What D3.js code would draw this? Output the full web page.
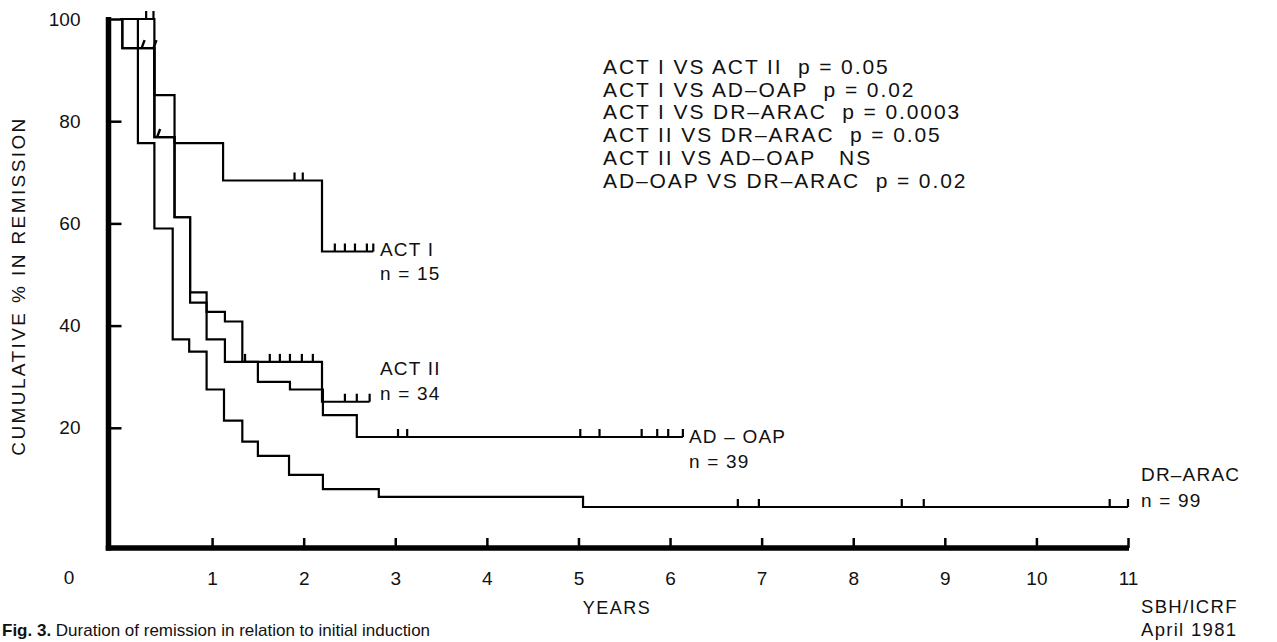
<!DOCTYPE html>
<html>
<head>
<meta charset="utf-8">
<script src="https://cdn.jsdelivr.net/npm/d3@7"></script>
<style>
  html, body { margin: 0; padding: 0; background: #fff; }
  svg { display: block; }
  text { font-family: "Liberation Sans", Arial, Helvetica, sans-serif; fill: #111; }
</style>
</head>
<body>
<svg id="chart" width="1277" height="642"></svg>
<script>
// ---------------- DATA ----------------
const yTicks = [20, 40, 60, 80, 100];
const xTicks = [1, 2, 3, 4, 5, 6, 7, 8, 9, 10, 11];

const actI_times = [0, 0.37, 0.59, 1.12, 2.20];
const actI_pct   = [100, 85.1, 75.7, 68.4, 54.5];
const actI_end   = 2.76;
const actI_censor = [0.28, 0.36, 1.90, 1.99, 2.34, 2.45, 2.56, 2.69, 2.76];

const actII_times = [0, 0.02, 0.37, 0.59, 0.76, 0.94, 1.14, 1.33, 2.20];
const actII_pct   = [100, 94.3, 76.9, 61.2, 46.5, 42.7, 40.8, 32.9, 25.1];
const actII_end   = 2.72;
const actII_censor = [1.36, 1.63, 1.74, 1.85, 1.98, 2.10, 2.45, 2.58, 2.72];
const actII_slant  = [0.23, 0.36];

const adoap_times = [0, 0.02, 0.37, 0.59, 0.76, 0.94, 1.14, 1.50, 1.85, 2.21, 2.58];
const adoap_pct   = [100, 94.3, 76.9, 61.2, 44.5, 37.3, 32.9, 29.0, 27.5, 22.5, 18.2];
const adoap_end   = 6.14;
const adoap_censor = [3.03, 3.13, 5.02, 5.23, 5.69, 5.86, 5.98, 6.14];
const adoap_slant  = [0.40];

const drarac_times = [0, 0.19, 0.37, 0.57, 0.75, 0.94, 1.13, 1.33, 1.50, 1.84, 2.21, 2.82, 5.05];
const drarac_pct   = [100, 75.7, 59.0, 37.3, 34.9, 27.5, 21.4, 17.3, 14.5, 10.8, 8.0, 6.5, 4.5];
const drarac_end   = 11.0;
const drarac_censor = [6.74, 6.97, 8.53, 8.77, 10.80, 11.0];

const seriesNames = ["ACT I", "ACT II", "AD \u2013 OAP", "DR\u2013ARAC"];
const seriesN     = ["n = 15", "n = 34", "n = 39", "n = 99"];

const statLines = [
  "ACT I VS ACT II  p = 0.05",
  "ACT I VS AD\u2013OAP  p = 0.02",
  "ACT I VS DR\u2013ARAC  p = 0.0003",
  "ACT II VS DR\u2013ARAC  p = 0.05",
  "ACT II VS AD\u2013OAP   NS",
  "AD\u2013OAP VS DR\u2013ARAC  p = 0.02"
];

// ---------------- SCALES ----------------
const svg = d3.select("#chart");
const x = d3.scaleLinear().domain([0, 11]).range([120.5, 1128]);
const y = d3.scaleLinear().domain([0, 100]).range([530, 19]);
const axisY = 548;   // x-axis baseline (slightly below 0%)
const axisX = 108.5; // y-axis line

// ---------------- AXES ----------------
const yAxis = d3.axisLeft(y).tickValues(yTicks).tickSize(-13).tickPadding(28).tickFormat(d3.format("d"));
const gy = svg.append("g").attr("transform", `translate(${axisX},0)`).call(yAxis);
gy.select(".domain").remove();
gy.selectAll(".tick line").attr("stroke", "#000").attr("stroke-width", 2.5);
gy.selectAll(".tick text").style("font-size", "19px").attr("fill", "#111").style("font-family", "Liberation Sans, Arial, sans-serif");

const xAxis = d3.axisBottom(x).tickValues(xTicks).tickSize(-10).tickPadding(24).tickFormat(d3.format("d"));
const gx = svg.append("g").attr("transform", `translate(0,${axisY})`).call(xAxis);
gx.select(".domain").remove();
gx.selectAll(".tick line").attr("stroke", "#000").attr("stroke-width", 2.5);
gx.selectAll(".tick text").style("font-size", "19px").attr("fill", "#111").style("font-family", "Liberation Sans, Arial, sans-serif");

// thick axis lines
svg.append("line").attr("x1", axisX).attr("x2", axisX).attr("y1", 17).attr("y2", axisY + 2.5)
  .attr("stroke", "#000").attr("stroke-width", 5.5);
svg.append("line").attr("x1", axisX - 2.75).attr("x2", x(11) + 1).attr("y1", axisY).attr("y2", axisY)
  .attr("stroke", "#000").attr("stroke-width", 5.5);

// origin label
svg.append("text").attr("x", 69).attr("y", 584).attr("text-anchor", "middle")
  .style("font-size", "19px").text("0");

// ---------------- CURVES ----------------
const series = [
  { times: actI_times, pct: actI_pct, end: actI_end, censor: actI_censor, slant: [] },
  { times: actII_times, pct: actII_pct, end: actII_end, censor: actII_censor, slant: actII_slant },
  { times: adoap_times, pct: adoap_pct, end: adoap_end, censor: adoap_censor, slant: adoap_slant },
  { times: drarac_times, pct: drarac_pct, end: drarac_end, censor: drarac_censor, slant: [] }
];

function levelAt(s, t) {
  let v = s.pct[0];
  for (let i = 0; i < s.times.length; i++) if (s.times[i] <= t) v = s.pct[i];
  return v;
}

const line = d3.line().x(d => x(d[0])).y(d => y(d[1])).curve(d3.curveStepAfter);

series.forEach(s => {
  const pts = s.times.map((t, i) => [t, s.pct[i]]);
  pts.push([s.end, s.pct[s.pct.length - 1]]);
  svg.append("path").attr("d", line(pts)).attr("fill", "none")
    .attr("stroke", "#000").attr("stroke-width", 2.2).attr("stroke-linejoin", "miter");
  svg.append("g").selectAll("line").data(s.censor).join("line")
    .attr("x1", d => x(d)).attr("x2", d => x(d))
    .attr("y1", d => y(levelAt(s, d))).attr("y2", d => y(levelAt(s, d)) - 8)
    .attr("stroke", "#000").attr("stroke-width", 2.2);
  svg.append("g").selectAll("line").data(s.slant).join("line")
    .attr("x1", d => x(d)).attr("x2", d => x(d) + 3)
    .attr("y1", d => y(levelAt(s, d))).attr("y2", d => y(levelAt(s, d)) - 8)
    .attr("stroke", "#000").attr("stroke-width", 2.4);
});

// ---------------- SERIES LABELS ----------------
const labelPos = [
  { x: 380, y1: 256, y2: 280 },
  { x: 380, y1: 375, y2: 400 },
  { x: 689, y1: 443, y2: 468 },
  { x: 1141, y1: 481, y2: 507 }
];
seriesNames.forEach((name, i) => {
  const p = labelPos[i];
  svg.append("text").attr("x", p.x).attr("y", p.y1).style("font-size", "19px")
    .style("letter-spacing", "1.2px").style("white-space", "pre").text(name);
  svg.append("text").attr("x", p.x).attr("y", p.y2).style("font-size", "19px")
    .style("letter-spacing", "1.2px").style("white-space", "pre").text(seriesN[i]);
});

// ---------------- STATS BLOCK ----------------
svg.append("g").selectAll("text").data(statLines).join("text")
  .attr("x", 603).attr("y", (d, i) => 74 + i * 22.7)
  .style("font-size", "21px").style("letter-spacing", "1.9px").style("white-space", "pre")
  .text(d => d);

// ---------------- AXIS TITLES / NOTES ----------------
svg.append("text").attr("transform", "translate(25,286) rotate(-90)").attr("text-anchor", "middle")
  .style("font-size", "19px").style("letter-spacing", "2.4px").text("CUMULATIVE % IN REMISSION");
svg.append("text").attr("x", 617).attr("y", 614).attr("text-anchor", "middle")
  .style("font-size", "18px").style("letter-spacing", "1.5px").text("YEARS");
svg.append("text").attr("x", 1141).attr("y", 613).style("font-size", "18.5px")
  .style("letter-spacing", "1.3px").text("SBH/ICRF");
svg.append("text").attr("x", 1141).attr("y", 636).style("font-size", "18.5px")
  .style("letter-spacing", "1.3px").text("April 1981");

// caption at bottom
const cap = svg.append("text").attr("x", 2).attr("y", 636).style("font-size", "17px");
cap.append("tspan").style("font-weight", "bold").text("Fig. 3. ");
cap.append("tspan").text("Duration of remission in relation to initial induction");
</script>
</body>
</html>
